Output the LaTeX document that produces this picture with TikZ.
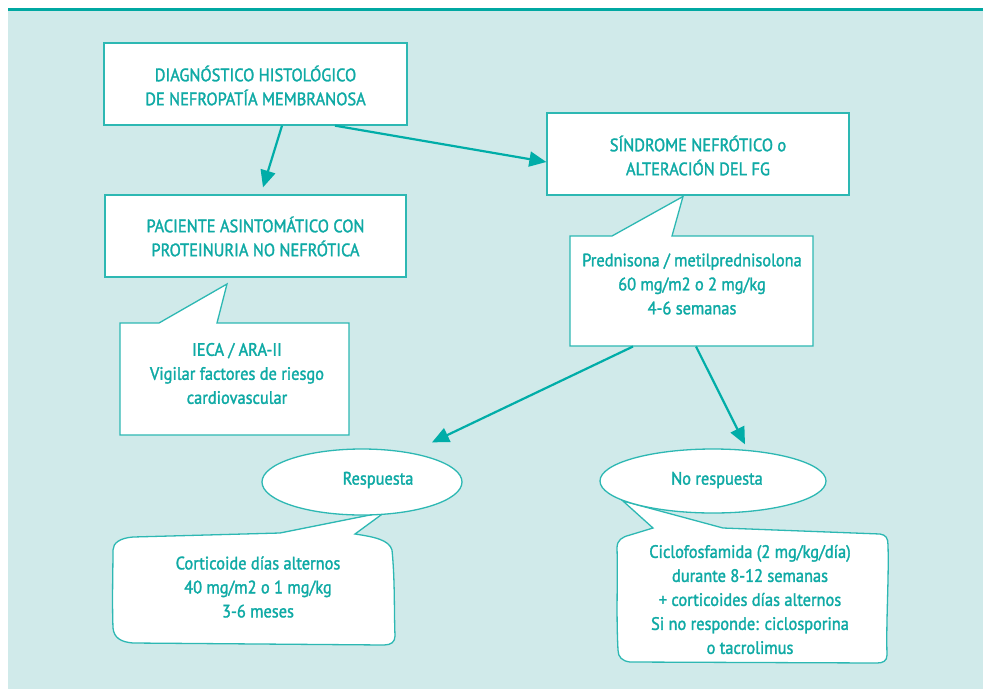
\documentclass[tikz,border=0pt]{standalone}
\usepackage{fontspec}
\setmainfont{PT Sans}[FakeStretch=0.91,FakeBold=1.6]
\usetikzlibrary{arrows.meta,shapes.geometric}
\definecolor{bgc}{HTML}{D0EAEA}
\definecolor{topc}{HTML}{00A8A2}
\definecolor{linec}{HTML}{2DB8B3}
\definecolor{arrc}{HTML}{00ADA8}
\definecolor{txtc}{HTML}{0FAAA5}
\begin{document}
\begin{tikzpicture}[x=1pt,y=-1pt,
  box/.style={draw=linec,line width=1.3pt,fill=white,inner sep=0pt},
  callout/.style={draw=linec,line width=1.3pt,fill=white,line join=miter},
  txt/.style={text=txtc,align=center,inner sep=0pt,font=\fontsize{18}{24}\selectfont},
  oval/.style={ellipse,draw=linec,line width=1.3pt,fill=white,inner sep=0pt},
  arr/.style={draw=arrc,line width=2.2pt,-{Triangle[length=17pt,width=15pt]}}]
\path[use as bounding box] (0,0) rectangle (983,689);
\fill[bgc] (8,10) rectangle (983,689);
\fill[topc] (8,8) rectangle (983,10.5);

% top boxes
\node[box,minimum width=303pt,minimum height=82pt] (diag) at (255.5,84) {};
\node[txt] (diagt) at (255.5,85.5) {DIAGNÓSTICO HISTOLÓGICO\\DE NEFROPATÍA MEMBRANOSA};
\node[box,minimum width=302pt,minimum height=82pt] (sind) at (698,154) {};
\node[txt] (sindt) at (698,155.5) {SÍNDROME NEFRÓTICO o\\ALTERACIÓN DEL FG};
\node[box,minimum width=301pt,minimum height=82pt] (pac) at (255.5,236) {};
\node[txt] (pact) at (255.5,236.5) {PACIENTE ASINTOMÁTICO CON\\PROTEINURIA NO NEFRÓTICA};

% rectangular callouts
\path[callout] (120,323) -- (159,323) -- (227,284) -- (217,323) -- (349,323)
  -- (349,435) -- (120,435) -- cycle;
\node[txt] (ieca) at (237,373.5) {IECA / ARA-II\\Vigilar factores de riesgo\\cardiovascular};

\path[callout] (570,236) -- (612,236) -- (683,196.5) -- (672,236) -- (813,236)
  -- (813,346) -- (570,346) -- cycle;
\node[txt] (pred) at (692,284) {Prednisona / metilprednisolona\\60 mg/m2 o 2 mg/kg\\4-6 semanas};
\coordinate (predb1) at (633,346.5);
\coordinate (predb2) at (696,346.5);

% rounded callouts
\path[callout] (133,537) -- (280,533) -- (385,512) -- (355,534)
  .. controls (375,537) and (389,540) .. (392,550)
  .. controls (395,580) and (394,610) .. (395,636)
  .. controls (395,642) and (391,645) .. (384,645)
  -- (133,643)
  .. controls (121,642) and (114,638) .. (113,628)
  .. controls (112,600) and (113,570) .. (113,550)
  .. controls (113,543) and (120,538) .. (133,537) -- cycle;
\node[txt] (cort) at (258,587) {Corticoide días alternos\\40 mg/m2 o 1 mg/kg\\3-6 meses};

\path[callout] (653,528) -- (623,501) -- (723,528) -- (880,534)
  .. controls (886,535) and (888,538) .. (888,545)
  .. controls (889,580) and (886,620) .. (887,655)
  .. controls (887,661) and (883,663) .. (877,663)
  -- (630,662)
  .. controls (622,661) and (618,657) .. (618,650)
  .. controls (616,610) and (618,580) .. (617,548)
  .. controls (617,540) and (622,537) .. (630,535) -- cycle;
\node[txt] (cyclo) at (750,599.5) {Ciclofosfamida (2 mg/kg/día)\\durante 8-12 semanas\\+ corticoides días alternos\\Si no responde: ciclosporina\\o tacrolimus};

% ovals
\node[oval,minimum width=200pt,minimum height=66pt] (resp) at (362,482) {};
\node[txt] (respt) at (378,480) {Respuesta};
\node[oval,minimum width=226pt,minimum height=64pt] (nores) at (713,481) {};
\node[txt] (norest) at (717,480) {No respuesta};

% arrows
\draw[arr] ([xshift=26.5pt]diag.south) -- ([xshift=7.5pt,yshift=7pt]pac.north);
\draw[arr] ([xshift=79.5pt]diag.south) -- ([yshift=-8pt]sind.west);
\draw[arr] (predb1) -- ([xshift=70pt,yshift=6pt]resp.north);
\draw[arr] (predb2) -- ([xshift=32pt,yshift=4pt]nores.north);
\end{tikzpicture}
\end{document}
